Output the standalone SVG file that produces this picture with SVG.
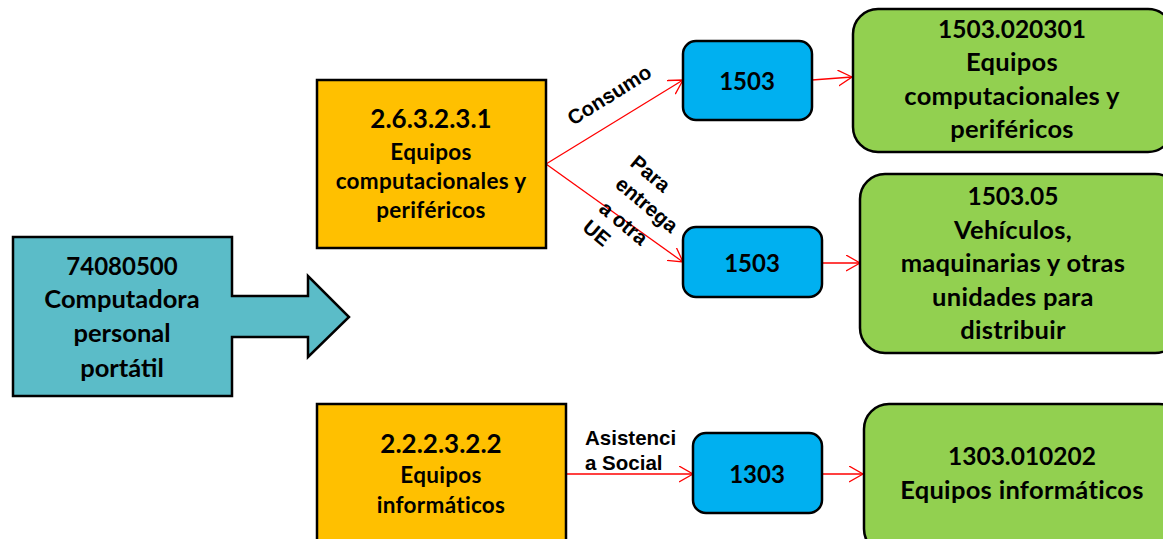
<svg xmlns="http://www.w3.org/2000/svg" width="1163" height="539" viewBox="0 0 1163 539">
<defs>
<style>
.n{stroke:#000;stroke-width:2.5}
.t{font-family:Lato,"Liberation Sans",sans-serif;font-weight:bold;fill:#000;text-anchor:middle}
.w{letter-spacing:0.3px}
.l{font-family:"Liberation Sans",Arial,sans-serif;font-weight:bold;fill:#000;font-size:20.5px}
.c{stroke:#ff0000;stroke-width:1.3;fill:none;marker-end:url(#ah)}
</style>
<marker id="ah" markerUnits="userSpaceOnUse" markerWidth="16" markerHeight="18" refX="14" refY="8" orient="auto">
<path d="M0,0 L14,8 L0,16" fill="none" stroke="#ff0000" stroke-width="1.3"/>
</marker>
</defs>
<rect width="1163" height="539" fill="#fff"/>
<g id="connectors">
<line class="c" x1="546" y1="164" x2="683" y2="80"/>
<line class="c" x1="546" y1="164" x2="683" y2="262"/>
<line class="c" x1="812" y1="80" x2="852" y2="77"/>
<line class="c" x1="822" y1="263" x2="860" y2="263"/>
<line class="c" x1="566" y1="474" x2="693" y2="474"/>
<line class="c" x1="822" y1="474" x2="863" y2="474"/>
<text class="l" transform="translate(613,101) rotate(-32)" text-anchor="middle">Consumo</text>
<text class="l" transform="rotate(40)" text-anchor="middle"><tspan x="610" y="-278">Para</tspan><tspan x="627" y="-252">entrega</tspan><tspan x="621" y="-223">a otra</tspan><tspan x="607" y="-198">UE</tspan></text>
<text class="l"><tspan x="585" y="445">Asistenci</tspan><tspan x="585" y="470">a Social</tspan></text>
</g>
<g id="n-source">
<polygon class="n" fill="#5BBCC8" points="13,237 232,237 232,296 308,296 308,276 349,317 308,357 308,337 232,337 232,396 13,396"/>
<text class="t"><tspan x="122" y="275" font-size="24">74080500</tspan><tspan x="122" y="308" font-size="25.5">Computadora</tspan><tspan x="122" y="342" font-size="25.5">personal</tspan><tspan x="122" y="377" font-size="25.5">portátil</tspan></text>
</g>
<g id="n-2632331">
<rect class="n" fill="#FFC000" x="317" y="80" width="229" height="168"/>
<text class="t"><tspan x="431" y="128" font-size="26">2.6.3.2.3.1</tspan><tspan class="w" x="431" y="160" font-size="22.5">Equipos</tspan><tspan class="w" x="431" y="189" font-size="22.5">computacionales y</tspan><tspan class="w" x="431" y="218" font-size="22.5">periféricos</tspan></text>
</g>
<g id="n-2223222">
<rect class="n" fill="#FFC000" x="317" y="404" width="249" height="145"/>
<text class="t"><tspan x="441" y="453" font-size="26">2.2.2.3.2.2</tspan><tspan class="w" x="441" y="483" font-size="22.5">Equipos</tspan><tspan class="w" x="441" y="513" font-size="22.5">informáticos</tspan></text>
</g>
<g id="n-1503a">
<rect class="n" fill="#00B0F0" x="683" y="41" width="129" height="79" rx="13"/>
<text class="t" font-size="24" x="747" y="90">1503</text>
</g>
<g id="n-1503b">
<rect class="n" fill="#00B0F0" x="683" y="227" width="139" height="70" rx="13"/>
<text class="t" font-size="24" x="752" y="272">1503</text>
</g>
<g id="n-1303">
<rect class="n" fill="#00B0F0" x="693" y="433" width="129" height="80" rx="13"/>
<text class="t" font-size="24" x="757" y="483">1303</text>
</g>
<g id="n-1503020301">
<rect class="n" fill="#92D050" x="853" y="9" width="320" height="143" rx="25"/>
<text class="t"><tspan x="1012" y="38" font-size="24.5">1503.020301</tspan><tspan class="w" x="1012" y="71" font-size="25.5">Equipos</tspan><tspan class="w" x="1012" y="105" font-size="25.5">computacionales y</tspan><tspan class="w" x="1012" y="138" font-size="25.5">periféricos</tspan></text>
</g>
<g id="n-150305">
<rect class="n" fill="#92D050" x="860" y="174" width="320" height="179" rx="25"/>
<text class="t"><tspan x="1013" y="205" font-size="24.5">1503.05</tspan><tspan class="w" x="1013" y="239" font-size="25.5">Vehículos,</tspan><tspan class="w" x="1013" y="272" font-size="25.5">maquinarias y otras</tspan><tspan class="w" x="1013" y="306" font-size="25.5">unidades para</tspan><tspan class="w" x="1013" y="339" font-size="25.5">distribuir</tspan></text>
</g>
<g id="n-1303010202">
<rect class="n" fill="#92D050" x="864" y="404" width="320" height="150" rx="25"/>
<text class="t"><tspan x="1022" y="465" font-size="24.5">1303.010202</tspan><tspan class="w" x="1022" y="499" font-size="25.5">Equipos informáticos</tspan></text>
</g>
</svg>
